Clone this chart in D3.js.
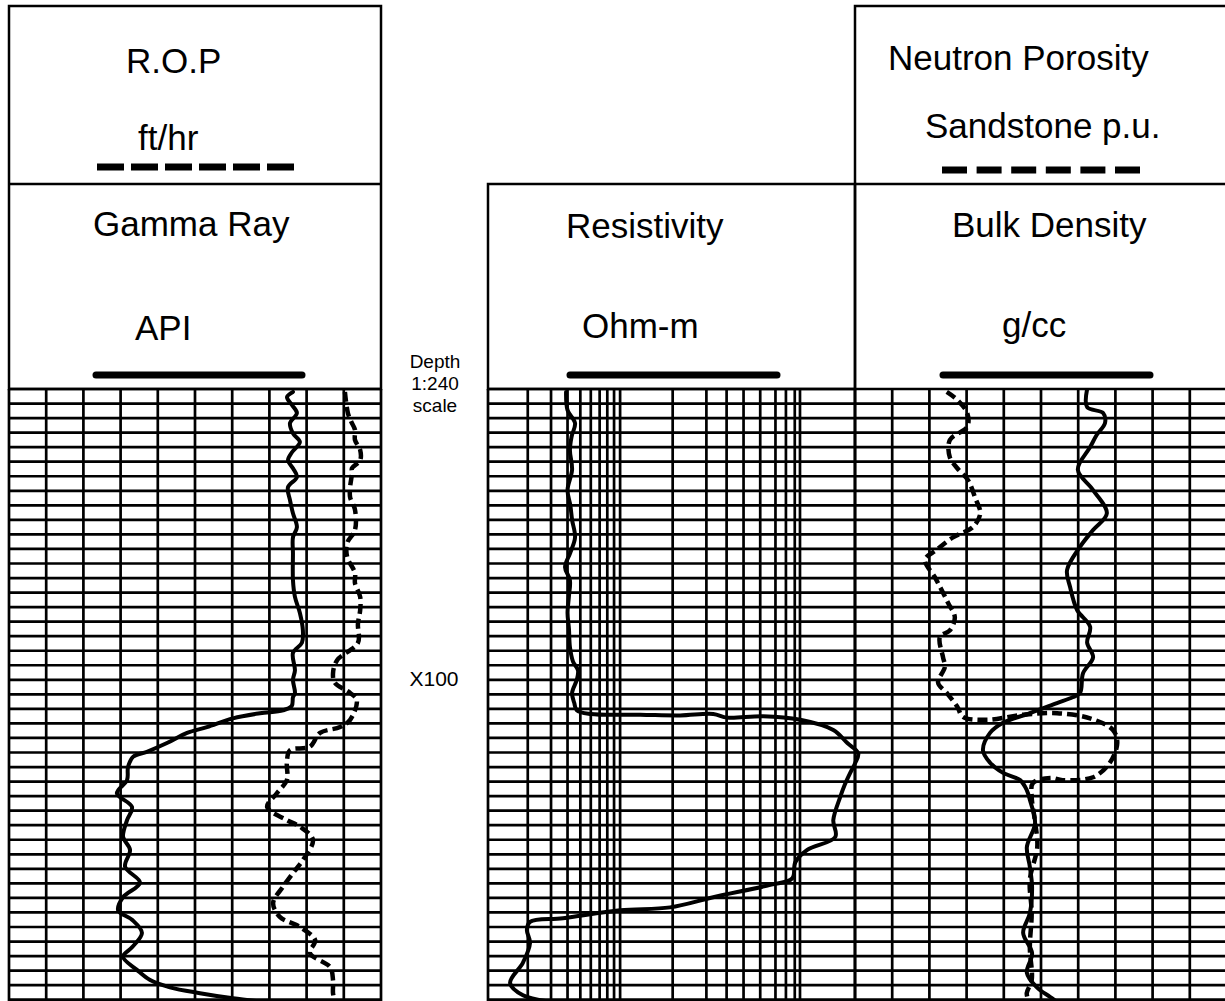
<!DOCTYPE html>
<html><head><meta charset="utf-8">
<script src="https://cdn.jsdelivr.net/npm/d3@7"></script>
<style>
body{margin:0;background:#fff}
svg{display:block}
text{font-family:"Liberation Sans",Arial,Helvetica,sans-serif;fill:#000}
</style>
</head><body>
<svg id="chart" width="1225" height="1001"></svg>
<script>
// ---------------- data ----------------
const depthDomain = [60, 144];          // ft (relative, X060 .. X144)
const depthGridStep = 2;                // ft per grid row
const depthLabels = [{depth: 100, text: "X100"}];
const depthTitle = ["Depth", "1:240", "scale"];

const grDomain = [0, 150];              // API
const grGridStep = 15;
const ropDomain = [100, 0];             // ft/hr
const resDomain = [1, 600];             // Ohm-m (log)
const resGridValues = [1,2,3,4,5,6,7,8,9,10,25,45,64,86,115,150,180,210,230];
const rhobDomain = [1.95, 2.95];        // g/cc
const rhobGridStep = 0.1;
const nphiDomain = [45, -15];           // p.u.

const headerTitles = ["R.O.P", "Gamma Ray", "Resistivity", "Neutron Porosity", "Bulk Density"];
const headerUnits  = ["ft/hr", "API", "Ohm-m", "Sandstone p.u.", "g/cc"];

const gammaDepth = [60.4,61.1,62.2,63.3,64.7,66.1,67.3,68.7,69.8,70.9,72.1,73.5,75.3,77.1,79.0,80.4,82.6,86.3,88.6,90.8,93.2,94.9,96.3,98.7,100.0,101.8,102.4,103.6,104.2,104.6,105.3,106.5,107.3,108.7,109.9,110.6,112.0,113.8,115.6,117.5,119.3,121.6,123.4,125.7,127.9,129.9,131.7,133.0,134.8,136.8,138.1,139.9,141.3,142.3,143.1,143.8,144.2];
const gammaAPI   = [114.5,112.1,114.1,116.1,113.3,114.5,117.3,114.1,112.5,114.5,116.1,112.5,113.3,114.5,116.1,114.5,114.5,114.5,115.3,117.3,118.5,118.1,114.5,115.3,114.5,115.3,114.5,114.0,110.5,101.2,90.3,79.8,71.8,63.7,55.6,50.0,48.0,47.6,43.5,49.6,47.6,46.0,48.8,46.8,52.8,46.0,44.0,49.6,53.6,49.6,46.0,51.6,56.9,64.9,77.0,90.3,100.4];

const ropDepth = [60.4,63.3,64.5,65.6,67.0,68.4,69.8,70.9,71.6,73.5,74.9,76.6,79.4,81.2,83.1,85.3,86.7,88.6,90.4,92.3,94.9,97.3,99.1,100.4,101.8,102.8,105.5,106.5,107.3,109.2,109.7,111.4,113.8,115.6,117.5,119.3,120.2,122.0,124.8,126.6,128.5,130.7,132.6,134.0,135.8,137.6,139.5,141.3,143.1,144.2];
const ropRate  = [9.7,8.9,8.0,7.0,7.0,5.6,5.6,7.8,7.8,8.3,8.3,7.0,7.0,9.1,9.1,7.0,7.0,5.6,5.6,6.2,6.2,11.8,12.9,12.4,8.3,6.5,8.3,11.0,16.4,19.1,24.5,25.3,25.3,28.0,30.6,25.3,21.8,18.3,21.0,23.7,26.4,29.0,27.2,21.8,17.7,19.1,13.7,12.9,12.9,12.4];

const resDepth = [60.4,62.9,64.7,66.5,68.4,71.1,73.9,76.0,78.0,80.4,82.5,84.5,86.3,88.5,90.8,93.0,95.5,97.5,98.7,100.0,101.8,103.2,104.2,104.7,104.8,104.9,104.7,105.2,105.0,105.5,106.9,108.7,110.1,111.5,112.8,114.5,116.1,119.3,121.6,123.4,125.1,127.3,128.2,129.9,131.3,131.7,132.8,133.3,134.4,136.2,138.9,141.7,143.4,144.2];
const resOhm   = [3.9,4.0,4.56,4.3,4.17,4.33,4.0,4.2,4.33,4.56,4.2,3.83,4.17,4.1,4.0,4.1,4.17,4.4,4.8,4.7,4.33,4.5,4.7,6.0,14.2,28.5,50.7,64.7,121,231,411,525,635,600,552,500,464,411,426,261,212,201,137,50.7,23.9,10,3.7,2.08,1.97,2.08,1.84,1.47,1.84,2.8];

const nphiDepth = [60.4,61.5,63.3,65.2,67.0,69.4,70.9,72.5,75.0,77.1,79.0,80.4,82.1,83.5,85.9,87.2,89.4,91.4,93.2,94.1,96.9,98.2,100.4,101.8,103.7,105.1,105.5,104.8,104.6,105.3,106.9,108.7,111.4,113.4,113.8,113.5,114.2,116.1,119.3,123.0,127.5,132.1,136.8,141.3,143.1,144.2];
const nphiPU    = [30.2,28.5,26.9,26.9,29.7,29.7,28.5,26.8,25.6,24.8,26.0,29.2,31.8,33.7,32.1,31.3,30.0,28.9,29.7,31.3,30.8,30.5,31.6,30.2,28.5,27.6,23.7,17.9,12.4,7.1,3.4,2.7,3.9,6.6,11.5,13.5,16.3,16.5,16.0,15.6,16.8,16.5,16.8,16.5,17.3,17.0];

const rhobDepth = [60.0,62.5,63.3,64.7,66.3,68.0,71.1,73.9,77.1,79.4,81.7,84.9,87.2,90.4,92.7,94.9,96.9,99.1,101.8,102.4,103.2,104.6,105.9,107.3,109.7,111.4,112.8,113.8,115.2,116.5,119.7,123.0,125.7,128.5,132.1,134.8,137.6,140.3,142.3,143.6,144.2];
const rhobGcc   = [2.574,2.574,2.617,2.622,2.600,2.582,2.549,2.590,2.627,2.590,2.555,2.520,2.528,2.547,2.582,2.574,2.590,2.563,2.555,2.535,2.493,2.420,2.348,2.313,2.294,2.313,2.348,2.394,2.412,2.420,2.434,2.412,2.420,2.426,2.420,2.402,2.426,2.412,2.439,2.474,2.49];

// ---------------- drawing ----------------
const svg = d3.select("#chart");
const gridTop = 389, gridBottom = 999.7;
const trackL = [9, 381], trackM = [488, 855], trackR = [855, 1227];

const y = d3.scaleLinear().domain(depthDomain).range([gridTop, gridBottom]);
const grX = d3.scaleLinear().domain(grDomain).range(trackL);
const ropX = d3.scaleLinear().domain(ropDomain).range(trackL);
const resX = d3.scaleLog().domain(resDomain).range(trackM);
const rhobX = d3.scaleLinear().domain(rhobDomain).range(trackR);
const nphiX = d3.scaleLinear().domain(nphiDomain).range(trackR);

const gridW = 2.7;
const grid = svg.append("g").attr("stroke", "#000").attr("stroke-width", gridW).attr("fill", "none");

const depthTicks = d3.range(depthDomain[0], depthDomain[1] + 0.001, depthGridStep);
[trackL, trackM, trackR].forEach(tr => {
  grid.append("g").selectAll("line").data(depthTicks).join("line")
    .attr("x1", tr[0]).attr("x2", tr[1])
    .attr("y1", d => y(d)).attr("y2", d => y(d));
});
const grTicks = d3.range(grDomain[0], grDomain[1] + 0.001, grGridStep);
grid.append("g").selectAll("line").data(grTicks).join("line")
  .attr("x1", d => grX(d)).attr("x2", d => grX(d))
  .attr("y1", gridTop).attr("y2", 1001);
grid.append("g").selectAll("line").data(resGridValues.concat([resDomain[1]])).join("line")
  .attr("x1", d => resX(d)).attr("x2", d => resX(d))
  .attr("y1", gridTop).attr("y2", 1001);
const rhobTicks = d3.range(0, 11).map(i => rhobDomain[0] + i * rhobGridStep);
grid.append("g").selectAll("line").data(rhobTicks).join("line")
  .attr("x1", d => rhobX(d)).attr("x2", d => rhobX(d))
  .attr("y1", gridTop).attr("y2", 1001);

// header boxes
const box = svg.append("g").attr("stroke", "#000").attr("stroke-width", 2.5).attr("fill", "none");
box.append("rect").attr("x", 9).attr("y", 6).attr("width", 372).attr("height", 383);
box.append("line").attr("x1", 9).attr("x2", 381).attr("y1", 184).attr("y2", 184);
box.append("rect").attr("x", 488).attr("y", 184).attr("width", 367).attr("height", 205);
box.append("path").attr("d", "M855,389V6H1230");
box.append("line").attr("x1", 855).attr("x2", 1230).attr("y1", 184).attr("y2", 184);

// header text
const hdr = svg.append("g").attr("font-size", 35);
const titlePos = [[126, 73], [93, 236], [566, 238], [888, 70], [952, 237]];
const unitPos  = [[138, 150], [135, 340], [582, 338], [925, 138], [1002, 337]];
headerTitles.forEach((t, i) => hdr.append("text").attr("x", titlePos[i][0]).attr("y", titlePos[i][1]).text(t));
headerUnits.forEach((t, i) => hdr.append("text").attr("x", unitPos[i][0]).attr("y", unitPos[i][1]).text(t));

// legend line samples
const leg = svg.append("g").attr("stroke", "#000").attr("fill", "none");
leg.append("line").attr("x1", 97).attr("x2", 295).attr("y1", 167).attr("y2", 167)
  .attr("stroke-width", 7).attr("stroke-dasharray", "27,7");
leg.append("line").attr("x1", 942).attr("x2", 1140).attr("y1", 170).attr("y2", 170)
  .attr("stroke-width", 7).attr("stroke-dasharray", "25,9.6");
[[96, 302], [570, 777], [943, 1150]].forEach(p =>
  leg.append("line").attr("x1", p[0]).attr("x2", p[1]).attr("y1", 375).attr("y2", 375)
    .attr("stroke-width", 7).attr("stroke-linecap", "round"));

// depth labels
const dl = svg.append("g").attr("font-size", 19).attr("text-anchor", "middle");
depthTitle.forEach((t, i) => dl.append("text").attr("x", 435).attr("y", 368 + i * 22).text(t));
depthLabels.forEach(d => dl.append("text").attr("x", 434).attr("y", y(d.depth) + 6).attr("font-size", 21).text(d.text));

// curves
const curves = svg.append("g").attr("fill", "none").attr("stroke", "#000")
  .attr("stroke-linejoin", "round").attr("stroke-linecap", "round");
function drawCurve(depths, vals, xs, dashed) {
  const pts = depths.map((d, i) => [xs(vals[i]), y(d)]);
  const p = curves.append("path")
    .attr("d", d3.line().curve(d3.curveCatmullRom.alpha(0.5))(pts))
    .attr("stroke-width", dashed ? 4.5 : 4);
  if (dashed) p.attr("stroke-dasharray", "10,5").attr("stroke-linecap", "butt");
}
svg.append("clipPath").attr("id", "clipAll").append("rect").attr("x", 0).attr("y", gridTop).attr("width", 1225).attr("height", 620);
curves.attr("clip-path", "url(#clipAll)");
drawCurve(gammaDepth, gammaAPI, grX, false);
drawCurve(ropDepth, ropRate, ropX, true);
drawCurve(resDepth, resOhm, resX, false);
drawCurve(rhobDepth, rhobGcc, rhobX, false);
drawCurve(nphiDepth, nphiPU, nphiX, true);
</script>
</body></html>
